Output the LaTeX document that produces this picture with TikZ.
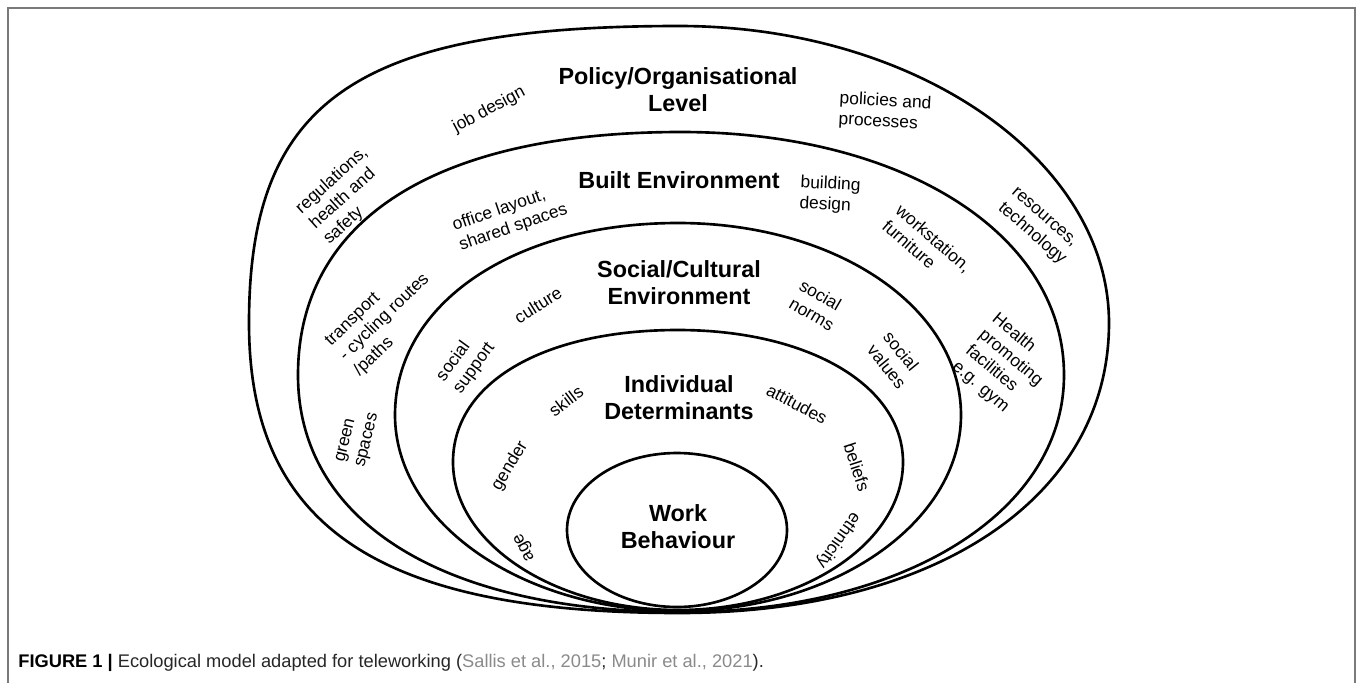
\documentclass[tikz,border=0pt]{standalone}
\usepackage{fontspec}
\setmainfont{Liberation Sans}
\definecolor{citegray}{HTML}{8A8A8A}
\definecolor{framegray}{HTML}{7A7A7A}
\tikzstyle{ring} = [draw, line width=1.5pt]
\tikzstyle{level} = [font=\fontsize{13.3}{15.3}\selectfont\bfseries, align=center, inner sep=0pt]
\tikzstyle{factor} = [font=\fontsize{9.9}{11.8}\selectfont, align=left, inner sep=0pt]
\newcommand{\bowl}[9]{%
  \draw[ring] ({#1-#2},#4)
    .. controls ({#1-#2},{#4-#6*(#4-#3)}) and ({#1-#6*#2},#3) .. (#1,#3)
    .. controls ({#1+#7*#2},#3) and ({#1+#2},{#4-#7*(#4-#3)}) .. ({#1+#2},#4)
    .. controls ({#1+#2},{#4+#8*(#5-#4)}) and ({#1+#8*#2},#5) .. (#1,#5)
    .. controls ({#1-#9*#2},#5) and ({#1-#2},{#4+#9*(#5-#4)}) .. cycle;}

\begin{document}
\begin{tikzpicture}[x=0.02cm, y=-0.02cm]
    \useasboundingbox (0,0) rectangle (1357,683);
    \draw[framegray, line width=0.8pt] (8,700) -- (8,8) -- (1355,8) -- (1355,700);
    \bowl{679}{430}{26}{323}{613}{0.75}{0.55}{0.6}{0.7}
    \bowl{681}{383}{132}{375}{612}{0.64}{0.58}{0.58}{0.62}
    \bowl{678}{283}{223}{415}{611}{0.58}{0.56}{0.55}{0.55}
    \bowl{678}{225}{330}{462}{610}{0.6}{0.58}{0.55}{0.55}
    \draw[ring] (677,530) ellipse [x radius=110, y radius=77];
    \node[level] (policy) at (678,90) {Policy/Organisational\\Level};
    \node[level] (built) at (679,180) {Built Environment};
    \node[level] (social) at (679,283) {Social/Cultural\\Environment};
    \node[level] (individual) at (679,398) {Individual\\Determinants};
    \node[level] (work) at (678,527) {Work\\Behaviour};
    \node[factor, rotate=28] (jobdesign) at (489,110) {job design};
    \node[factor, rotate=-3] (policies) at (885,112) {policies and\\processes};
    \node[factor, rotate=42] (regulations) at (346,196) {regulations,\\health and\\safety};
    \node[factor, rotate=-41] (resources) at (1038,227) {resources,\\technology};
    \node[factor, rotate=19] (office) at (510,218) {office layout,\\shared spaces};
    \node[factor, rotate=-3] (building) at (830,195) {building\\design};
    \node[factor, rotate=-41] (workstation) at (927,246) {workstation,\\furniture};
    \node[factor, rotate=44] (transport) at (385,318) {transport\\- cycling routes\\/paths};
    \node[factor, rotate=-40] (health) at (1004,366) {Health\\promoting\\facilities\\e.g. gym};
    \node[factor, rotate=76] (green) at (358,438) {green\\spaces};
    \node[factor, rotate=32] (culture) at (538,305) {culture};
    \node[factor, rotate=-30] (norms) at (817,305) {social\\norms};
    \node[factor, rotate=54] (support) at (466,362) {social\\support};
    \node[factor, rotate=-51] (values) at (895,360) {social\\values};
    \node[factor, rotate=37] (skills) at (566,401) {skills};
    \node[factor, rotate=-28] (attitudes) at (797,404) {attitudes};
    \node[factor, rotate=59] (gender) at (510,466) {gender};
    \node[factor, rotate=-72] (beliefs) at (857,467) {beliefs};
    \node[factor, rotate=118] (age) at (525,547) {age};
    \node[factor, rotate=235] (ethnicity) at (838,540) {ethnicity};
    \node[anchor=west, inner sep=0pt, font=\fontsize{10.4}{12}\selectfont, text=black!85] (caption) at (18,663)
        {\textbf{\color{black}FIGURE 1 |} Ecological model adapted for teleworking (\textcolor{citegray}{Sallis et al., 2015}; \textcolor{citegray}{Munir et al., 2021}).};
\end{tikzpicture}
\end{document}
